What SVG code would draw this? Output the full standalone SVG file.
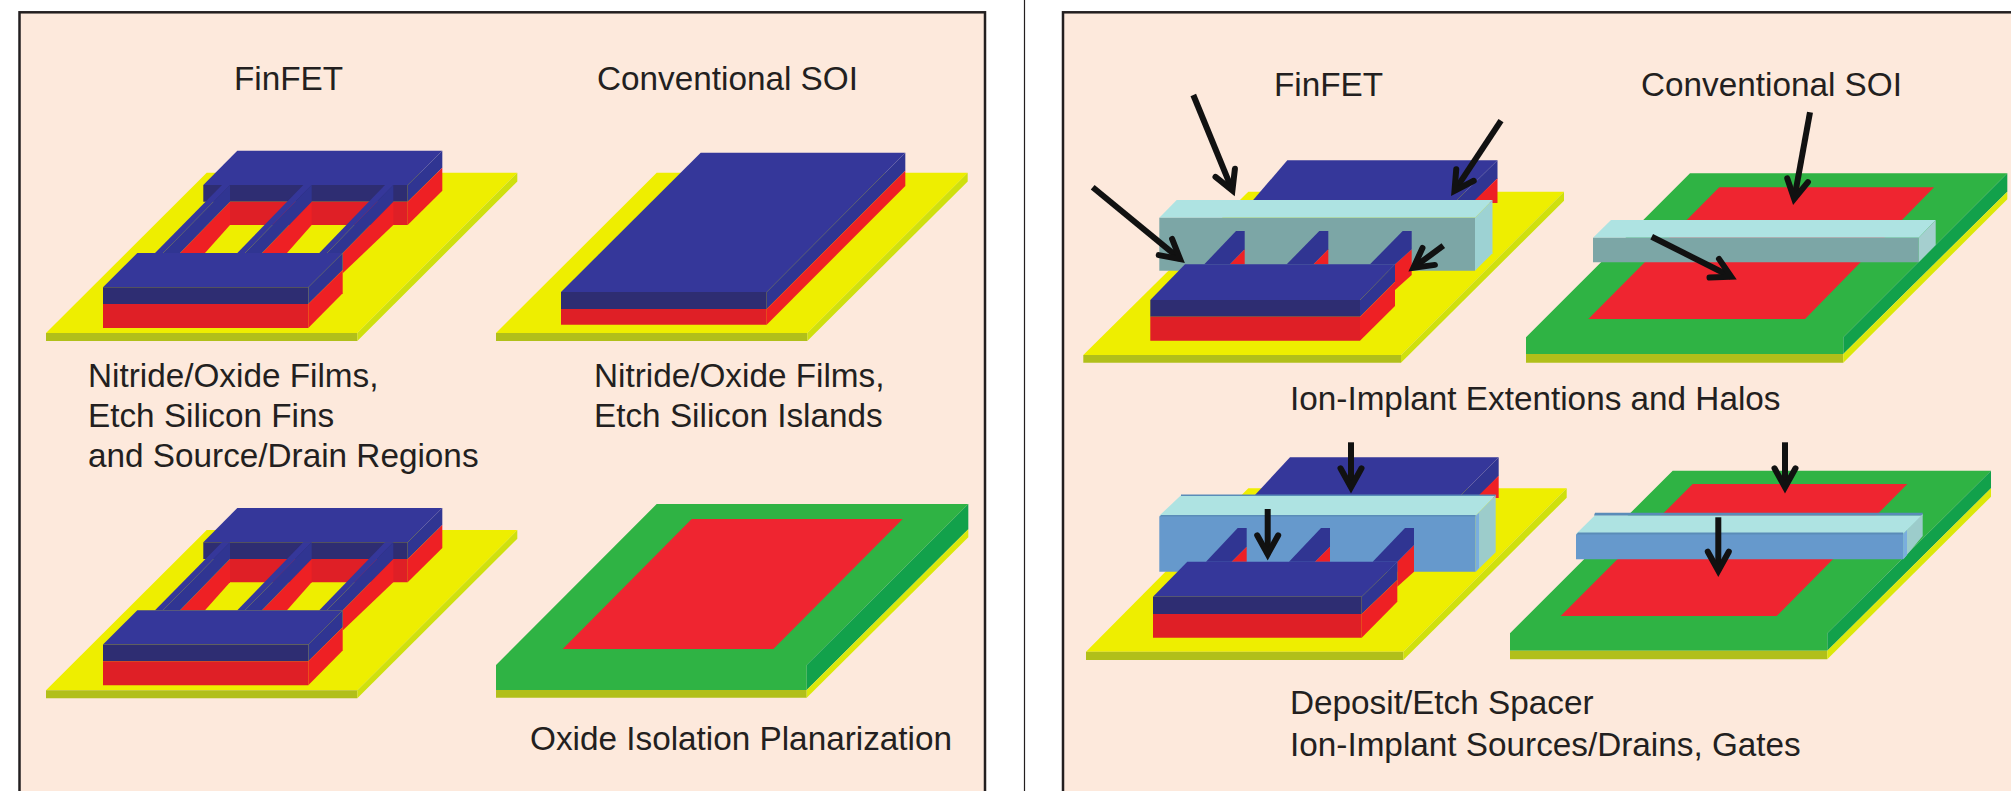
<svg xmlns="http://www.w3.org/2000/svg" xmlns:xlink="http://www.w3.org/1999/xlink" width="2011" height="791" viewBox="0 0 2011 791">
<style>
.panel{fill:#fde9dc;stroke:#231f20;stroke-width:2.5}
.pt{fill:#eeee00}.pf{fill:#b1bf1a}.ps{fill:#cfe00e}
.bt{fill:#35379a}.bf{fill:#2e2d72}.bs{fill:#303592}
.rf{fill:#df1f26}.rs{fill:#ee2024}.ri{fill:#ef2530}
.gt{fill:#2fb344}.gs{fill:#12a14b}
.ct{fill:#aee3e2}.cf{fill:#7ca6a6}.cs{fill:#9dd2d3}
.sf{fill:#6699cc}.ss{fill:#9ccccb}.se{fill:#5a8cb8}.sl{fill:#7aaede}
.t{font-family:"Liberation Sans",Arial,sans-serif;font-size:33.3px;fill:#231f20}
.a{fill:none;stroke:#111;stroke-width:6;marker-end:url(#ah)}
</style>
<defs>
<marker id="ah" markerUnits="userSpaceOnUse" markerWidth="40" markerHeight="40" viewBox="0 0 40 40" refX="30" refY="20" orient="auto">
<path d="M11,9.5 L30,20 L11,30.5" fill="none" stroke="#111" stroke-width="6" stroke-linecap="round"/>
</marker>
<g id="fin-structure">
<path class="pt" d="M206.7,172.8H517.3L357.3,333H46Z"/>
<path class="pf" d="M46,333H357.3V341H46Z"/>
<path class="ps" d="M517.3,172.8V181.5L357.3,341V333Z"/>
<path class="bt" d="M237.3,150.7H442.3L407.7,185H203.3Z"/>
<path class="bf" d="M203.3,185H407.7V201.7H203.3Z"/>
<path class="bs" d="M407.7,185L442.3,150.7V167.7L407.7,201.7Z"/>
<path class="rs" d="M407.7,201.7L442.3,167.7V190.7L407.7,225Z"/>
<path class="rf" d="M230,201.7H407.7V225H230Z"/>
<path class="rs" d="M230,201.7V225L205,253H180Z"/>
<path class="bt" d="M155,253L222,185H230L163,253Z"/>
<path class="bs" d="M163,253L230,185V201.7L180,253Z"/>
<path class="rs" d="M311.7,201.7V225L287,253H262Z"/>
<path class="bt" d="M237.3,253L303.3,185H311.7L245,253Z"/>
<path class="bs" d="M245,253L311.7,185V201.7L262,253Z"/>
<path class="rs" d="M393.3,201.7V225L342.7,273.3V253Z"/>
<path class="bt" d="M319.3,253L385,185H393.3L327,253Z"/>
<path class="bs" d="M327,253L393.3,185V201.7L342.7,253Z"/>
<path class="bt" d="M137.3,253H342.7L308.3,287.3H103Z"/>
<path class="bf" d="M103,287.3H308.3V304H103Z"/>
<path class="rf" d="M103,304H308.3V328H103Z"/>
<path class="bs" d="M308.3,287.3L342.7,253V270L308.3,304Z"/>
<path class="rs" d="M308.3,304L342.7,270V293.3L308.3,328Z"/>
</g>
</defs>
<rect width="2011" height="791" fill="#fff"/>
<rect class="panel" x="19.5" y="12.3" width="965.5" height="790"/>
<path d="M1024.5,0V791" stroke="#231f20" stroke-width="1.2"/>
<rect class="panel" x="1063" y="12.3" width="960" height="790"/>

<g id="panel1-finfet"><use href="#fin-structure" xlink:href="#fin-structure"/></g>

<g id="panel2-soi">
<path class="pt" d="M656.7,172.8H967.7L807.3,333H496Z"/>
<path class="pf" d="M496,333H807.3V341H496Z"/>
<path class="ps" d="M967.7,172.8V181.5L807.3,341V333Z"/>
<path class="bt" d="M700.7,152.7H905.3L766.7,292H561Z"/>
<path class="bf" d="M561,292H766.7V309H561Z"/>
<path class="rf" d="M561,309H766.7V324.7H561Z"/>
<path class="bs" d="M766.7,292L905.3,152.7V170.7L766.7,309Z"/>
<path class="rs" d="M766.7,309L905.3,170.7V186L766.7,324.7Z"/>
</g>

<g id="panel3-finfet"><use href="#fin-structure" xlink:href="#fin-structure" y="357.3"/></g>

<g id="panel4-soi">
<path class="gt" d="M656.7,504H968.3L806.7,665V690H496V665Z"/>
<path class="pf" d="M496,690H806.7V697.8H496Z"/>
<path class="gs" d="M806.7,665L968.3,504V529.3L806.7,690Z"/>
<path class="ps" d="M806.7,690L968.3,529.3V537.3L806.7,697.8Z" style="fill:#dbe80a"/>
<path class="ri" d="M691.7,519H902.7L773.3,649H562.7Z"/>
</g>

<g id="panel5-finfet">
<path class="pt" d="M1248.3,191.7H1564L1401,355H1083.3Z"/>
<path class="pf" d="M1083.3,355H1401V362.7H1083.3Z"/>
<path class="ps" d="M1564,191.7V200.7L1401,362.7V355Z"/>
<path class="bt" d="M1287.3,160.3H1497.5L1456,201H1252.3Z"/>
<path class="bs" d="M1497.5,160.3V178.3L1475,201H1456Z"/>
<path class="rs" d="M1497.5,178.3V203H1472Z"/>
<path class="ct" d="M1176.7,200H1492.5L1475,217.7H1159.3Z"/>
<path class="cf" d="M1159.3,217.7H1475V270.7H1159.3Z"/>
<path class="cs" d="M1475,217.7L1492.5,200V253.3L1475,270.7Z"/>
<path class="bs" d="M1204.3,264.3L1236,231H1244.7V249.3L1230,264.3Z"/>
<path class="rs" d="M1244.7,249.3V264.3H1230Z"/>
<path class="bs" d="M1286.7,264.3L1319.3,231H1328.3V249.3L1313.5,264.3Z"/>
<path class="rs" d="M1328.3,249.3V264.3H1313.5Z"/>
<path class="rs" d="M1411.7,249.3V275L1395,290V264.3Z"/>
<path class="bs" d="M1370,264.3L1402.7,231H1411.7V249.3L1395,264.3Z"/>
<path class="bt" d="M1185,264.3H1395L1360,300H1150.3Z"/>
<path class="bf" d="M1150.3,300H1360V316.7H1150.3Z"/>
<path class="rf" d="M1150.3,316.7H1360V340.7H1150.3Z"/>
<path class="bs" d="M1360,300L1395,264.3V281.7L1360,316.7Z"/>
<path class="rs" d="M1360,316.7L1395,281.7V306L1360,340.7Z"/>
</g>

<g id="panel6-soi">
<path class="gt" d="M1690,173.3H2007.3L1843.3,337.3V354H1526V337.3Z"/>
<path class="pf" d="M1526,354H1843.3V362.7H1526Z"/>
<path class="gs" d="M1843.3,337.3L2007.3,173.3V191.7L1843.3,354Z"/>
<path class="ps" d="M1843.3,354L2007.3,191.7V199.3L1843.3,362.7Z" style="fill:#dbe80a"/>
<path class="ri" d="M1719.3,187.3H1934L1805,319H1588.3Z"/>
<path class="ct" d="M1611,220H1935.7L1918.7,237.7H1593Z"/>
<path class="cf" d="M1593,237.7H1918.7V262.3H1593Z"/>
<path class="cs" d="M1918.7,237.7L1935.7,220V245L1918.7,262.3Z" style="fill:#a5cfcf"/>
</g>

<g id="panel7-finfet">
<path class="pt" d="M1248.3,488.3H1566.7L1403.3,651.7H1086Z"/>
<path class="pf" d="M1086,651.7H1403.3V660H1086Z"/>
<path class="ps" d="M1566.7,488.3V497.7L1403.3,660V651.7Z"/>
<path class="bt" d="M1290,457.3H1498.7L1460,496H1254Z"/>
<path class="bs" d="M1498.7,457.3V475.7L1480,496H1460Z"/>
<path class="rs" d="M1498.7,475.7V498L1476,498Z"/>
<path class="ct" d="M1181,495.3H1495.7L1475.7,515.7H1159.3Z"/>
<path class="se" d="M1181,494.5H1495.7V496H1181ZM1161,515H1475.7V517H1159.3Z"/>
<path class="sf" d="M1159.3,516.5H1475.7V571.7H1159.3Z"/>
<path class="ss" d="M1475.7,515.7L1495.7,495.3V552.3L1475.7,571.7Z"/>
<path class="sl" d="M1475.7,516L1479,513V568L1475.7,571.7Z"/>
<path class="bs" d="M1206,561.7L1237.7,528H1246.7V546.7L1231.7,561.7Z"/>
<path class="rs" d="M1246.7,546.7V561.7H1231.7Z"/>
<path class="bs" d="M1289,561.7L1321,528H1330V546.7L1315,561.7Z"/>
<path class="rs" d="M1330,546.7V561.7H1315Z"/>
<path class="rs" d="M1414,545V571.7L1397.3,586.7V561.7Z"/>
<path class="bs" d="M1372.7,561.7L1405,528H1414V545L1397.3,561.7Z"/>
<path class="bt" d="M1187.3,561.7H1397.3L1361.7,596.7H1153Z"/>
<path class="bf" d="M1153,596.7H1361.7V614H1153Z"/>
<path class="rf" d="M1153,614H1361.7V637.7H1153Z"/>
<path class="bs" d="M1361.7,596.7L1397.3,561.7V580L1361.7,614Z"/>
<path class="rs" d="M1361.7,614L1397.3,580V601.7L1361.7,637.7Z"/>
</g>

<g id="panel8-soi">
<path class="gt" d="M1672.7,470.7H1991L1827.3,633.3V650.7H1510V633.3Z"/>
<path class="pf" d="M1510,650.7H1827.3V659.3H1510Z"/>
<path class="gs" d="M1827.3,633.3L1991,470.7V488.3L1827.3,650.7Z"/>
<path class="ps" d="M1827.3,650.7L1991,488.3V496.7L1827.3,659.3Z" style="fill:#dbe80a"/>
<path class="ri" d="M1692.7,484H1907.3L1776.7,616H1560.7Z"/>
<path class="ct" d="M1595,515.3H1922.7L1903.3,534H1576Z"/>
<path class="se" d="M1595,512.7H1922.7V515.5H1594ZM1578,532.5H1903.3V535H1576Z"/>
<path class="sf" d="M1576,534.5H1903.3V559.3H1576Z"/>
<path class="ss" d="M1903.3,534L1922.7,514V536L1903.3,559.3Z"/>
<path class="sl" d="M1903.3,534L1907,530V555L1903.3,559.3Z"/>
</g>

<g id="connectors">
<path class="a" d="M1193.3,95L1232.4,190.4"/>
<path class="a" d="M1501,120.7L1454.5,190.8"/>
<path class="a" d="M1092.7,187.3L1180.1,259.1"/>
<path class="a" d="M1443.3,245.7L1413.4,267.7"/>
<path class="a" d="M1810,112.3L1794.2,199"/>
<path class="a" d="M1651.7,236.7L1731.2,276.8"/>
<path class="a" d="M1351,442.3V487.3"/>
<path class="a" d="M1267.7,509V554.3"/>
<path class="a" d="M1785,442.3V487.3"/>
<path class="a" d="M1718.3,517.3V570.7"/>
</g>

<g id="labels">
<text class="t" x="234" y="90">FinFET</text>
<text class="t" x="597" y="90">Conventional SOI</text>
<text class="t" x="88" y="387">Nitride/Oxide Films,</text>
<text class="t" x="88" y="427">Etch Silicon Fins</text>
<text class="t" x="88" y="467">and Source/Drain Regions</text>
<text class="t" x="594" y="387">Nitride/Oxide Films,</text>
<text class="t" x="594" y="427">Etch Silicon Islands</text>
<text class="t" x="530" y="750">Oxide Isolation Planarization</text>
<text class="t" x="1274" y="96">FinFET</text>
<text class="t" x="1641" y="96">Conventional SOI</text>
<text class="t" x="1290" y="410">Ion-Implant Extentions and Halos</text>
<text class="t" x="1290" y="714">Deposit/Etch Spacer</text>
<text class="t" x="1290" y="756">Ion-Implant Sources/Drains, Gates</text>
</g>
</svg>
